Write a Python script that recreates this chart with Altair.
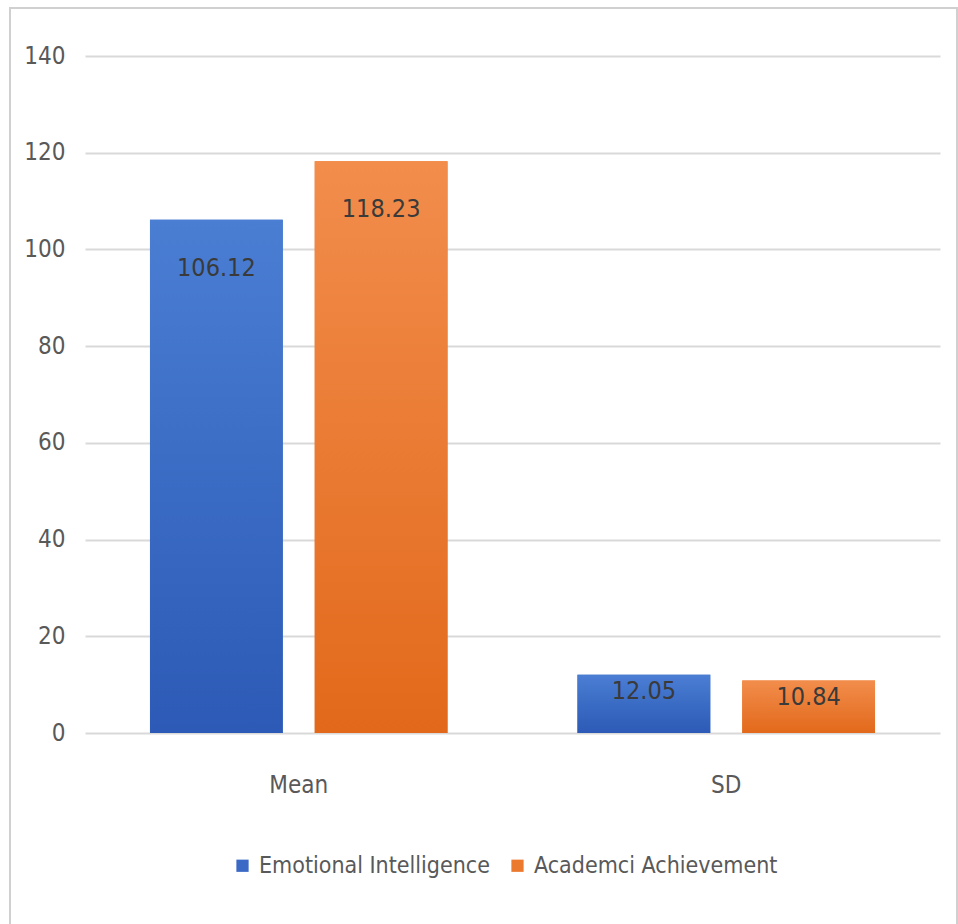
import altair as alt
import pandas as pd

categories = ["Mean", "SD"]
series = ["Emotional Intelligence", "Academci Achievement"]
emotional_intelligence = [106.12, 12.05]
academic_achievement = [118.23, 10.84]
y_ticks = [0, 20, 40, 60, 80, 100, 120, 140]

rows = []
for c, v in zip(categories, emotional_intelligence):
    rows.append({"category": c, "series": series[0], "value": v})
for c, v in zip(categories, academic_achievement):
    rows.append({"category": c, "series": series[1], "value": v})
df = pd.DataFrame(rows)

FONT = "Liberation Sans Narrow, DejaVu Sans Condensed, Arial Narrow, sans-serif"
GRAY = "#595959"
FS = 24

x_enc = alt.X(
    "category:N",
    sort=categories,
    scale=alt.Scale(paddingInner=0.304, paddingOuter=0.152),
    axis=alt.Axis(title=None, labelAngle=0, domain=False, ticks=False, tickSize=0,
                  labelPadding=40, labelFontSize=FS, labelColor=GRAY, labelFont=FONT),
)
xo_enc = alt.XOffset("series:N", sort=series,
                     scale=alt.Scale(domain=series, paddingInner=0.194))
y_enc = alt.Y(
    "value:Q",
    scale=alt.Scale(domain=[0, 140], nice=False),
    axis=alt.Axis(title=None, values=y_ticks, domain=False, ticks=False, tickSize=0,
                  labelPadding=20, labelFontSize=FS, labelColor=GRAY, labelFont=FONT,
                  gridColor="#d9d9d9", gridWidth=2),
)

base = alt.Chart(df)

legend_bars = base.mark_bar().encode(
    x=x_enc, xOffset=xo_enc, y=y_enc,
    color=alt.Color(
        "series:N",
        scale=alt.Scale(domain=series, range=["#3a69c6", "#ec7a2e"]),
        legend=alt.Legend(
            title=None, orient="none", direction="horizontal",
            legendX=146, legendY=798,
            symbolType="square", symbolSize=150, symbolStrokeWidth=0,
            labelFontSize=23, labelColor=GRAY, labelFont=FONT, labelLimit=0,
            labelOffset=5, columnPadding=16, padding=0,
        ),
    ),
)

def grad(top, bottom):
    return alt.Gradient(
        gradient="linear",
        stops=[alt.GradientStop(color=top, offset=0),
               alt.GradientStop(color=bottom, offset=1)],
        x1=0, x2=0, y1=0, y2=1,
    )

blue_bars = base.transform_filter(alt.datum.series == series[0]).mark_bar(
    color=grad("#4a7ed3", "#2c5ab6")
).encode(x=x_enc, xOffset=xo_enc, y=y_enc)

orange_bars = base.transform_filter(alt.datum.series == series[1]).mark_bar(
    color=grad("#f28d4c", "#e2691b")
).encode(x=x_enc, xOffset=xo_enc, y=y_enc)

labels_mean = base.transform_filter(alt.datum.category == "Mean").mark_text(
    baseline="middle", dy=48, fontSize=FS + 1, font=FONT, color="#3a3a3a"
).encode(x=x_enc, xOffset=xo_enc, y=y_enc, text=alt.Text("value:Q", format=".2f"))

labels_sd = base.transform_filter(alt.datum.category == "SD").mark_text(
    baseline="middle", dy=16, fontSize=FS + 1, font=FONT, color="#3a3a3a"
).encode(x=x_enc, xOffset=xo_enc, y=y_enc, text=alt.Text("value:Q", format=".2f"))

frame = alt.Chart(pd.DataFrame({"k": [0]})).mark_rect(
    fill=None, stroke="#d0d0d0", strokeWidth=2
).encode(x=alt.value(-75), x2=alt.value(872), y=alt.value(-48), y2=alt.value(875))

chart = alt.layer(
    frame, legend_bars, blue_bars, orange_bars, labels_mean, labels_sd
).properties(
    width=855, height=677,
    autosize=alt.AutoSizeParams(type="none"),
    padding={"left": 85, "top": 56, "right": 18, "bottom": 191},
    background="white",
).configure_view(stroke=None)

chart.save("out.html", embed_options={"renderer": "svg", "actions": False})
